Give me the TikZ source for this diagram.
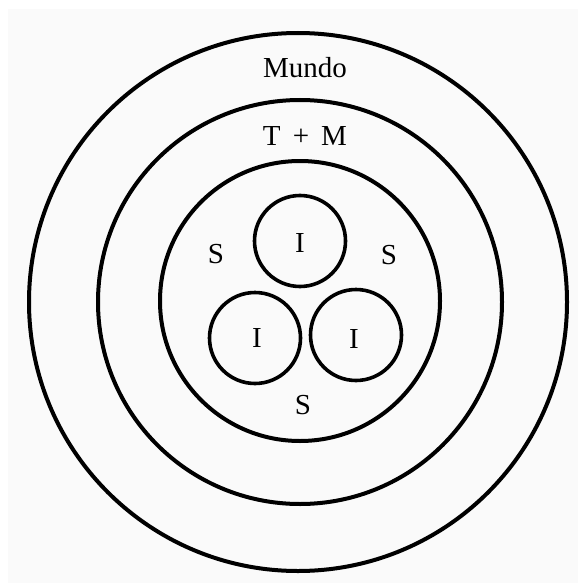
\documentclass[tikz,border=0pt]{standalone}
\usepackage{fontspec}
\setmainfont{Liberation Serif}
\begin{document}
\begin{tikzpicture}[x=1pt,y=-1pt,
  ring/.style={circle,draw=black,line width=4pt,inner sep=0pt,outer sep=0pt},
  small/.style={circle,draw=black,line width=3.6pt,inner sep=0pt,outer sep=0pt,minimum size=91pt},
  lbl/.style={font=\fontsize{29}{32}\selectfont,inner sep=0pt,anchor=base}]
\useasboundingbox (0,0) rectangle (578,583);
\fill[white] (0,0) rectangle (578,583);
\fill[black!2] (8,9) rectangle (578,583);
\node[ring,minimum size=538pt] (mundo) at (298,302) {};
\node[ring,minimum size=404pt] (tm) at (300,302) {};
\node[ring,minimum size=280pt] (soc) at (300,301) {};
\node[small] (i1) at (300,241) {};
\node[small] (i2) at (255,338) {};
\node[small] (i3) at (356,335) {};
\node[lbl] (lmundo) at (305,78) {Mundo};
\node[lbl] (ltm) at (305,145) {T \,+\, M};
\node[lbl] (s1) at (216,263) {S};
\node[lbl] (s2) at (389,264) {S};
\node[lbl] (s3) at (303,414) {S};
\node[lbl] (li1) at (300,252) {I};
\node[lbl] (li2) at (257,347) {I};
\node[lbl] (li3) at (354,348) {I};
\end{tikzpicture}
\end{document}
